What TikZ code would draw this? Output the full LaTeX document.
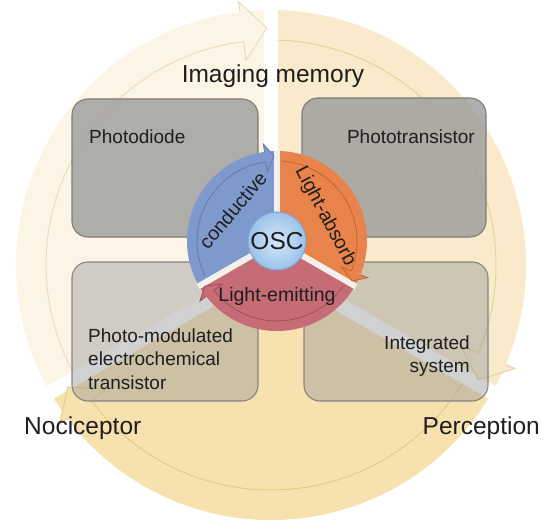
\documentclass[tikz,border=0pt]{standalone}
\usepackage{fontspec}
\setmainfont{Liberation Sans}
\definecolor{wA}{HTML}{FCF5E6}
\definecolor{wB}{HTML}{F9EACB}
\definecolor{wC}{HTML}{F7E1AE}
\definecolor{lA}{HTML}{EADBB6}
\definecolor{lB}{HTML}{E6CF98}
\definecolor{lC}{HTML}{E4C985}
\definecolor{cBlue}{HTML}{7E99CC}
\definecolor{cBlueL}{HTML}{5C77AC}
\definecolor{cOr}{HTML}{E8834B}
\definecolor{cOrL}{HTML}{C0602C}
\definecolor{cRed}{HTML}{C56C76}
\definecolor{cRedL}{HTML}{9C4A55}
\definecolor{boxgray}{HTML}{9B9B9B}
\definecolor{boxline}{HTML}{7C7C7C}
\definecolor{txt}{HTML}{1E1E1E}
\definecolor{oscin}{HTML}{D4E7F8}
\definecolor{oscout}{HTML}{9CC3EA}
\definecolor{oscline}{HTML}{7DA6D4}
\definecolor{gapc}{HTML}{F4F1EC}
\begin{document}
\begin{tikzpicture}[x=1pt,y=1pt,
  boxtop/.style={rectangle, rounded corners=16pt, fill=boxgray, fill opacity=.8, draw=boxline, line width=1.1pt},
  boxbot/.style={rectangle, rounded corners=16pt, fill=boxgray, fill opacity=.45, draw=boxline, draw opacity=.9, line width=1.1pt},
  boxtext/.style={text=txt, font=\fontsize{19}{23.5}\selectfont, inner sep=0pt},
  bigtext/.style={text=txt, font=\fontsize{24.5}{28}\selectfont, inner sep=0pt},
  wtext/.style={text=txt, font=\fontsize{19.5}{22}\selectfont, inner sep=0pt}]
\useasboundingbox (0,0) rectangle (546,531);

% ---------- big cycle of three arrows ----------
\begin{scope}[shift={(271,266)}]
  \fill[wA] (0,0) -- (210:255) arc[start angle=210, end angle=90, radius=255pt] -- cycle;
  \fill[wB] (0,0) -- (90:255) arc[start angle=90, end angle=-30, radius=255pt] -- cycle;
  \fill[wC] (0,0) -- (-30:255) arc[start angle=-30, end angle=-150, radius=255pt] -- cycle;
  \foreach \a in {90,-30,210} \draw[white, line width=14pt] (0,0) -- (\a:280);
  % heads
  \fill[wA] (97:255) -- (97:265) -- (91:237) -- (97:206) -- (97:225) -- cycle;
  \fill[wB] (-23:255) -- (-23:265) -- (-29:237) -- (-23:206) -- (-23:225) -- cycle;
  \fill[wC] (-143:255) -- (-143:265) -- (-149:237) -- (-143:206) -- (-143:225) -- cycle;
  % band outlines
  \draw[lA, line width=0.9pt] (208.3:225) arc[start angle=208.3, end angle=97, radius=225pt] -- (97:206) -- (91:237) -- (97:265) -- (97:255);
  \draw[lB, line width=0.9pt] (88.3:225) arc[start angle=88.3, end angle=-23, radius=225pt] -- (-23:206) -- (-29:237) -- (-23:265) -- (-23:255);
  \draw[lC, line width=0.9pt] (-31.7:225) arc[start angle=-31.7, end angle=-143, radius=225pt] -- (-143:206) -- (-149:237) -- (-143:265) -- (-143:255);
\end{scope}

% ---------- four boxes ----------
\node[boxtop, minimum width=186pt, minimum height=138pt] (bTL) at (165,363) {};
\node[boxtop, minimum width=184pt, minimum height=139pt] (bTR) at (394,363.5) {};
\node[boxbot, minimum width=186pt, minimum height=139pt] (bBL) at (165,199.5) {};
\node[boxbot, minimum width=184pt, minimum height=139pt] (bBR) at (396,199.5) {};

\node[boxtext, anchor=west] (tPD) at (89,394) {Photodiode};
\node[boxtext, anchor=east] (tPT) at (475,394) {Phototransistor};
\node[boxtext, anchor=west, align=left] (tPM) at (88,172) {Photo-modulated\\electrochemical\\transistor};
\node[boxtext, anchor=east, align=right] (tIS) at (470,175) {Integrated\\system};

% ---------- inner three arrows ----------
\begin{scope}[shift={(277,290)}]
  \fill[cBlue] (0,0) -- (210:90) arc[start angle=210, end angle=90, radius=90pt] -- cycle;
  \fill[cOr] (0,0) -- (90:90) arc[start angle=90, end angle=-30, radius=90pt] -- cycle;
  \fill[cRed] (0,0) -- (-30:90) arc[start angle=-30, end angle=-150, radius=90pt] -- cycle;
  \foreach \a in {90,-30,210} \draw[gapc, line width=6pt] (0,0) -- (\a:91);
  \fill[cBlue] (98:90) -- (98:98) -- (92:85) -- (98:70) -- (98:80) -- cycle;
  \fill[cOr] (-22:90) -- (-22:98) -- (-28:85) -- (-22:70) -- (-22:80) -- cycle;
  \fill[cRed] (-142:90) -- (-142:98) -- (-148:85) -- (-142:70) -- (-142:80) -- cycle;
  \draw[cBlueL, line width=0.7pt] (206:80) arc[start angle=206, end angle=98, radius=80pt] -- (98:70) -- (92:85) -- (98:98) -- (98:90);
  \draw[cOrL, line width=0.7pt] (86:80) arc[start angle=86, end angle=-22, radius=80pt] -- (-22:70) -- (-28:85) -- (-22:98) -- (-22:90);
  \draw[cRedL, line width=0.7pt] (-34:80) arc[start angle=-34, end angle=-142, radius=80pt] -- (-142:70) -- (-148:85) -- (-142:98) -- (-142:90);
  \node[wtext, rotate=50] (tcond) at (145:54) {conductive};
  \node[wtext, rotate=-62] (tabs) at (27:54) {Light-absorb};
  \node[wtext] (temit) at (-90:55) {Light-emitting};
  \shade[inner color=oscin, outer color=oscout, draw=oscline, line width=1pt] (0,0) circle[radius=29pt];
\end{scope}

\node[text=txt, inner sep=0pt, font=\fontsize{24.5}{26}\selectfont] (osc) at (277,290) {OSC};

% ---------- outer labels ----------
\node[bigtext] (tIM) at (273,455) {Imaging memory};
\node[bigtext, anchor=west] (tNO) at (24,103) {Nociceptor};
\node[bigtext, anchor=east] (tPE) at (540,103) {Perception};
\end{tikzpicture}
\end{document}
